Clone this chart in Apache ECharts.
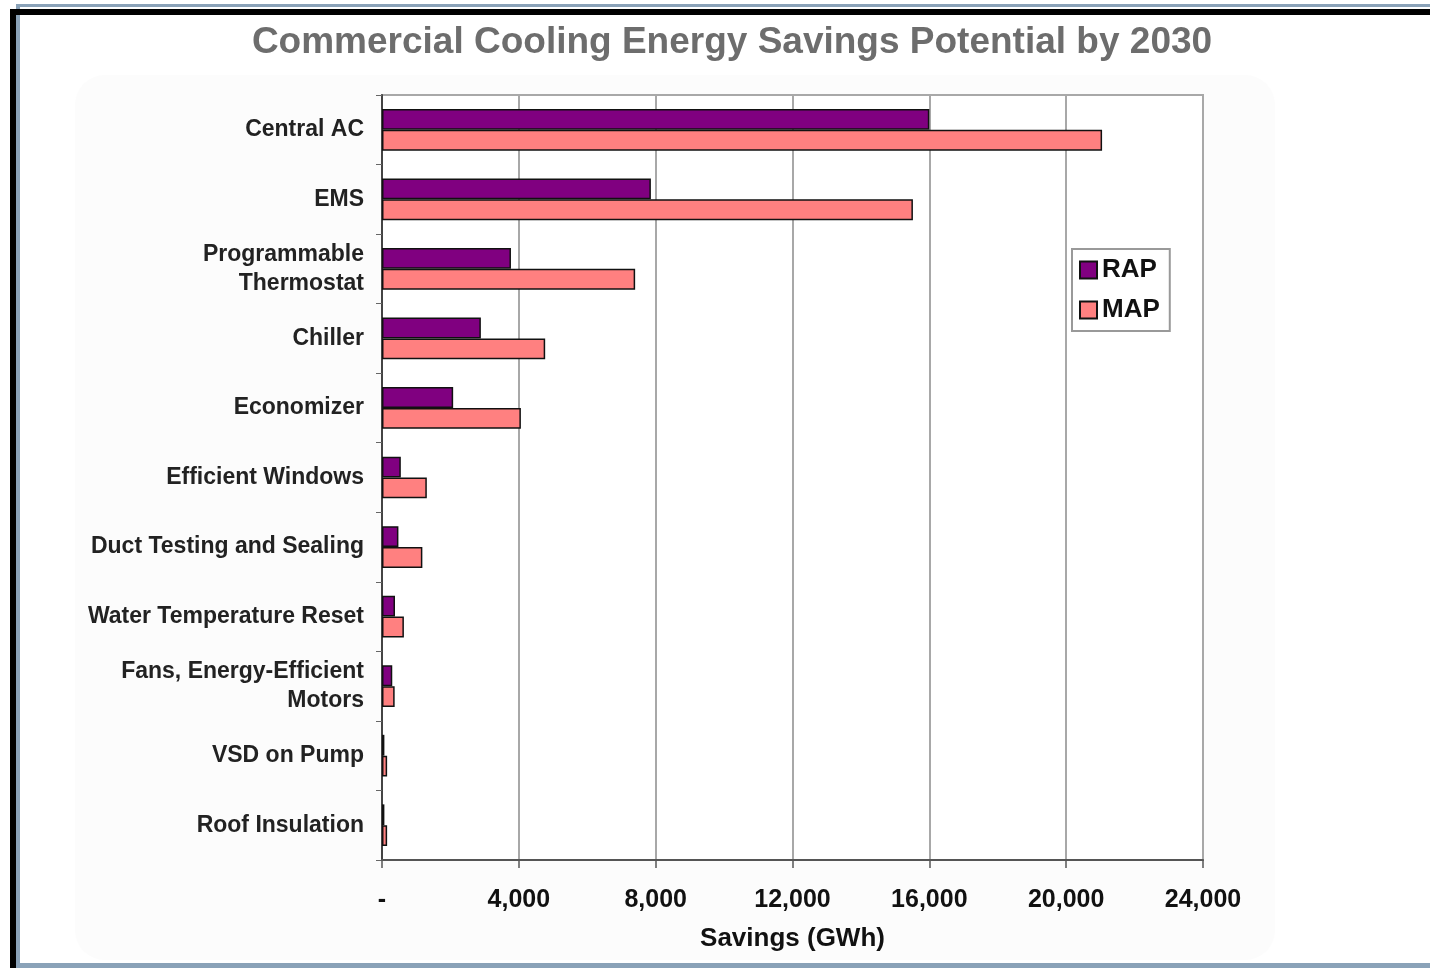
<!DOCTYPE html>
<html>
<head>
<meta charset="utf-8">
<script src="https://cdn.jsdelivr.net/npm/echarts@6/dist/echarts.min.js"></script>
<style>
html,body{margin:0;padding:0;background:#fff;}
#chart{width:1430px;height:968px;}
</style>
</head>
<body>
<div id="chart"></div>
<script>
const categories = ['Central AC','EMS','Programmable\nThermostat','Chiller','Economizer','Efficient Windows','Duct Testing and Sealing','Water Temperature Reset','Fans, Energy-Efficient\nMotors','VSD on Pump','Roof Insulation'];
const rapValues = [16000, 7860, 3770, 2890, 2080, 550, 480, 380, 300, 70, 70];
const mapValues = [21050, 15520, 7400, 4770, 4060, 1310, 1180, 640, 370, 150, 150];
const xTicks = [0, 4000, 8000, 12000, 16000, 20000, 24000];

const chart = echarts.init(document.getElementById('chart'));
const font = 'Liberation Sans, Arial, sans-serif';
chart.setOption({
  backgroundColor: '#fff',
  animation: false,
  title: {
    text: 'Commercial Cooling Energy Savings Potential by 2030',
    left: 727, top: 19, textAlign: 'center',
    textStyle: {fontFamily: font, fontWeight: 'bold', fontSize: 37, color: '#6d6d6d'}
  },
  graphic: [
    {type:'rect', z:-1, shape:{x:75,y:75,width:1200,height:885,r:30}, style:{fill:'#fcfcfc'}},
    {type:'rect', shape:{x:16,y:4,width:1414,height:3}, style:{fill:'#8aa2b8'}},
    {type:'rect', shape:{x:16,y:4,width:4,height:964}, style:{fill:'#8aa2b8'}},
    {type:'rect', shape:{x:16,y:963,width:1414,height:5}, style:{fill:'#8aa2b8'}},
    {type:'rect', shape:{x:10,y:9,width:1420,height:6}, style:{fill:'#000'}},
    {type:'rect', shape:{x:10,y:9,width:6,height:959}, style:{fill:'#000'}}
  ],
  legend: {
    orient: 'vertical', left: 1072, top: 249,
    data: ['RAP','MAP'],
    backgroundColor: '#fff', borderColor: '#999', borderWidth: 2,
    padding: [8, 10, 8, 7], itemGap: 14,
    itemWidth: 17, itemHeight: 17, icon: 'rect',
    textStyle: {fontFamily: font, fontWeight: 'bold', fontSize: 26, color: '#111'}
  },
  grid: {left: 382, right: 227, top: 95, bottom: 108, containLabel: false,
         show: true, borderColor: '#a8a8a8', borderWidth: 2, backgroundColor: '#fff'},
  xAxis: {
    type: 'value', min: 0, max: 24000, interval: 4000,
    name: 'Savings (GWh)', nameLocation: 'middle', nameGap: 66,
    nameTextStyle: {fontFamily: font, fontWeight: 'bold', fontSize: 26, color: '#111'},
    axisLine: {show: true, lineStyle: {color: '#555', width: 2}},
    axisTick: {show: true, length: 8, lineStyle: {color: '#555', width: 1.5}},
    axisLabel: {margin: 28, fontFamily: font, fontWeight: 'bold', fontSize: 25, color: '#111',
      formatter: v => xTicks.includes(v) ? (v === 0 ? '-' : v.toLocaleString('en-US')) : ''},
    splitLine: {show: true, lineStyle: {color: '#a8a8a8', width: 2}}
  },
  yAxis: {
    type: 'category', data: categories, inverse: true,
    axisLine: {show: true, lineStyle: {color: '#444', width: 2}},
    axisTick: {show: true, length: 6, lineStyle: {color: '#666'}},
    axisLabel: {margin: 18, fontFamily: font, fontWeight: 'bold', fontSize: 23, color: '#222', lineHeight: 29},
    splitLine: {show: false}
  },
  series: [
    {name: 'RAP', type: 'bar', data: rapValues, barGap: '0%', barCategoryGap: '40%',
     itemStyle: {color: '#800080', borderColor: '#111', borderWidth: 1.5}},
    {name: 'MAP', type: 'bar', data: mapValues, barGap: '0%', barCategoryGap: '40%',
     itemStyle: {color: '#ff8080', borderColor: '#111', borderWidth: 1.5}}
  ]
});
</script>
</body>
</html>
